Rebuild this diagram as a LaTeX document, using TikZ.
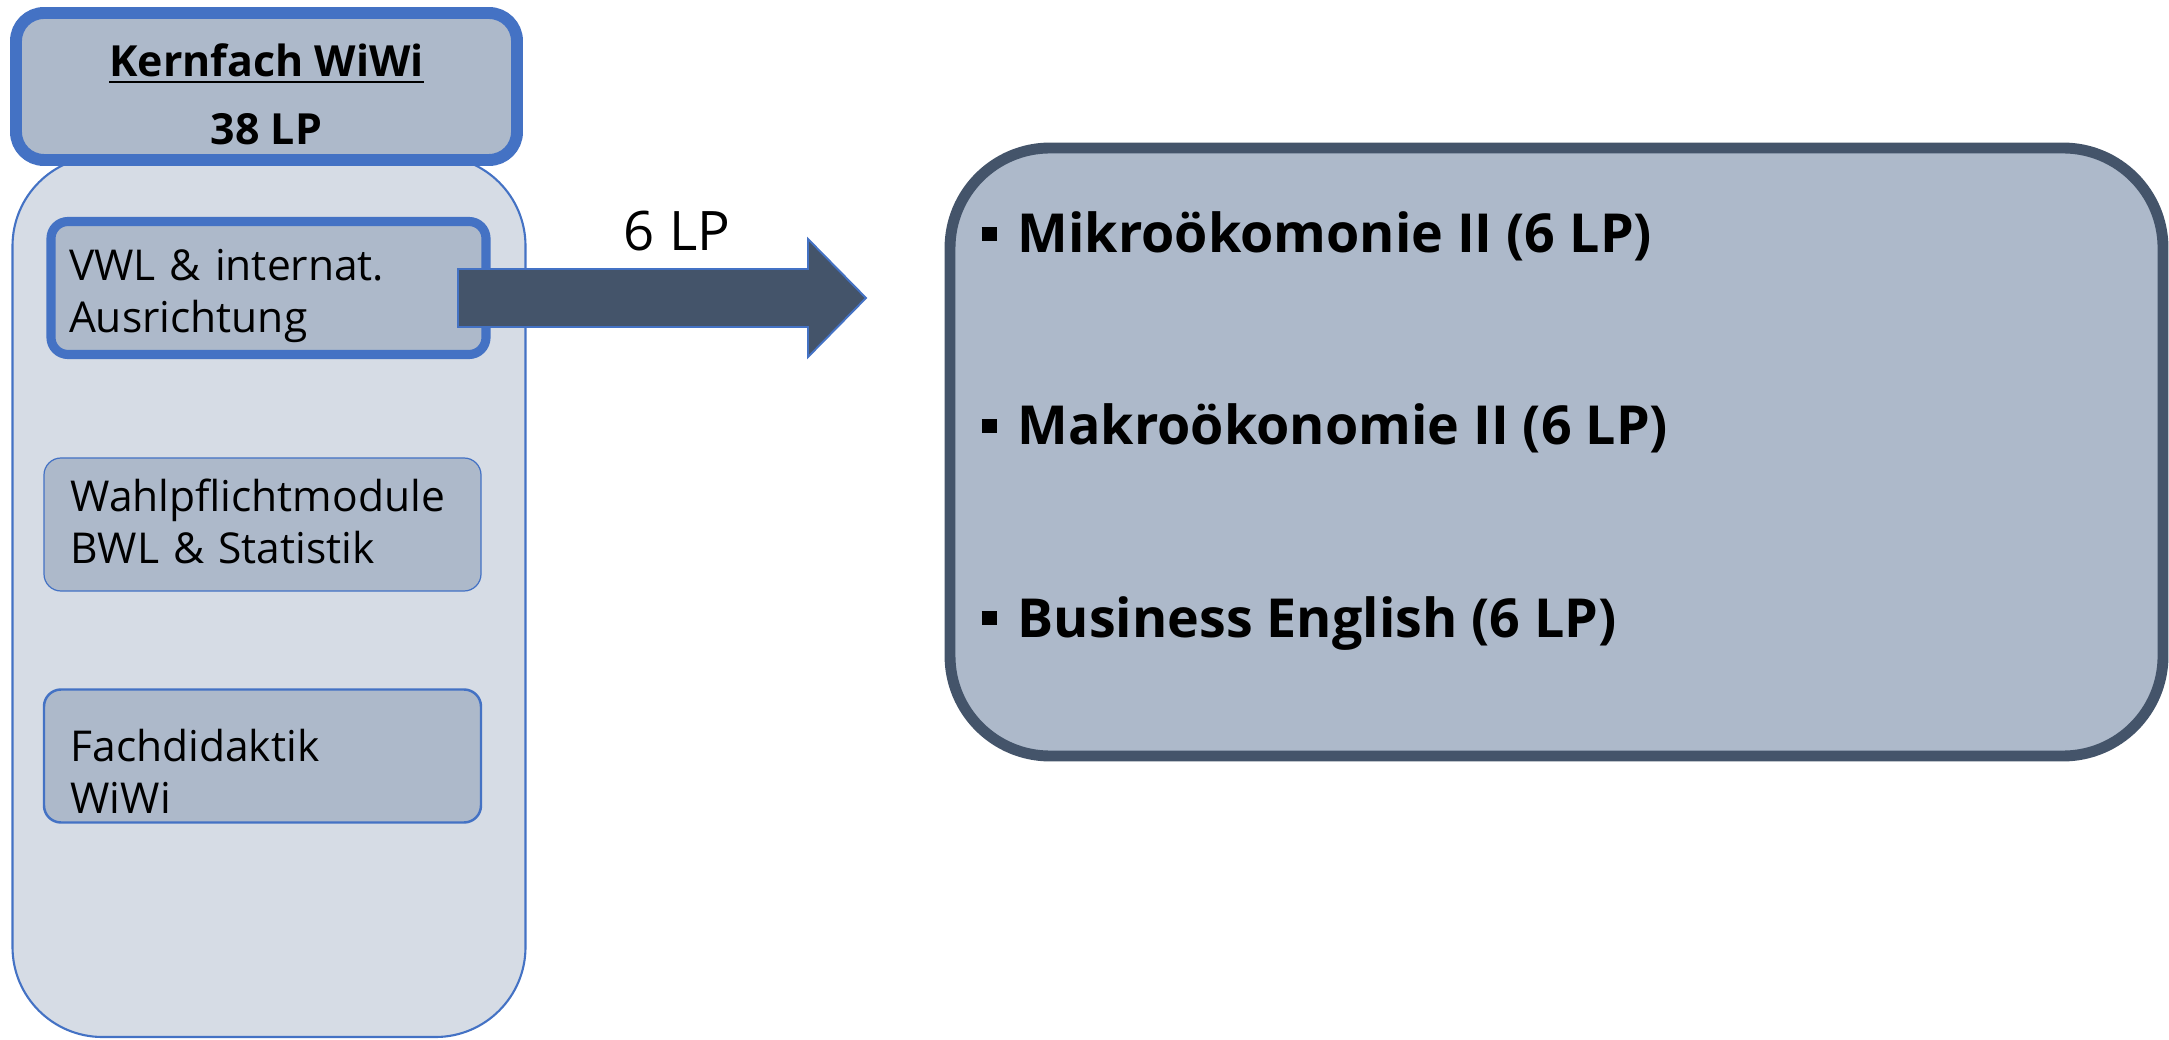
\documentclass[tikz,border=0pt]{standalone}
\usepackage{fontspec}
\setmainfont{Open Sans}
\usepackage{tikz}
\usetikzlibrary{positioning}
\tikzstyle{sheet} = [y = -1cm, every node/.style={inner sep=0pt}]
\definecolor{frameBlue}{RGB}{68,114,196}
\definecolor{paleFill}{RGB}{214,220,229}
\definecolor{moduleFill}{RGB}{173,185,202}
\definecolor{slateColor}{RGB}{68,84,106}
\tikzstyle{columnStyle} = [draw=frameBlue, fill=paleFill, line width=.6pt, rounded corners=.9cm, minimum width=5.13cm, minimum height=8.81cm]
\tikzstyle{headStyle} = [draw=frameBlue, fill=moduleFill, line width=3.4pt, rounded corners=.28cm, minimum width=5.01cm, minimum height=1.47cm]
\tikzstyle{headText} = [align=center, font=\fontsize{12.2pt}{19.4pt}\selectfont\bfseries]
\tikzstyle{moduleStyle} = [draw=frameBlue, fill=moduleFill, rounded corners=.17cm, minimum height=1.33cm]
\tikzstyle{moduleText} = [align=left, font=\fontsize{12.1pt}{14.8pt}\selectfont]
\tikzstyle{arrowStyle} = [draw=frameBlue, fill=slateColor, line width=.55pt, line join=miter]
\tikzstyle{arrowText} = [font=\fontsize{15.5pt}{18pt}\selectfont, anchor=base]
\tikzstyle{summaryStyle} = [draw=slateColor, fill=moduleFill, line width=3.1pt, rounded corners=1cm, minimum width=12.13cm, minimum height=6.08cm]
\tikzstyle{entryText} = [font=\fontsize{15.3pt}{18pt}\selectfont\bfseries, anchor=base west]
\newcommand{\moduleBox}[7]{
  \node [moduleStyle, line width=#2, minimum width=#3cm] (#1) at (#5) {};
  \node [moduleText, text width=#4cm] (#1Text) at ([yshift=#6cm]#1.center) {#7};
}
\newcommand{\entryBullet}{\llap{\raisebox{.12cm}{\rule{.15cm}{.14cm}}\hspace{.21cm}}}

\begin{document}
\begin{tikzpicture}[sheet]
  \useasboundingbox (0,0) rectangle (21.69,10.40);
  % left column
  \node [columnStyle] (column) at (2.69,5.965) {};
  \node [headStyle] (head) at (2.665,.865) {};
  \node [headText] (headLabel) at ([yshift=-.08cm]head.center) {\underline{Kernfach WiWi}\\38 LP};
  \moduleBox{vwl}{2.6pt}{4.35}{3.99}{2.685,2.88}{-.08}{VWL \& internat.\\Ausrichtung}
  \moduleBox{wahl}{.35pt}{4.37}{3.84}{2.625,5.245}{.035}{Wahlpflichtmodule\\BWL \& Statistik}
  \moduleBox{fach}{.7pt}{4.37}{3.84}{2.625,7.56}{-.15}{Fachdidaktik\\WiWi}
  % arrow
  \coordinate (arrowTail) at (4.58,2.98);
  \draw [arrowStyle, shift={(arrowTail)}] (0,-.29) -- (3.5,-.29) -- (3.5,-.59) -- (4.08,0) -- (3.5,.59) -- (3.5,.29) -- (0,.29) -- cycle;
  \node [arrowText] (arrowLabel) at (6.77,2.51) {6 LP};
  % right box
  \node [summaryStyle] (summary) at (15.565,4.52) {};
  \foreach \entry [count=\i] in {Mikroökomonie II (6 LP), Makroökonomie II (6 LP), Business English (6 LP)} {
    \node [entryText] (entry\i) at (10.17,{.61 + 1.92*\i}) {\entryBullet\entry};
  }
\end{tikzpicture}
\end{document}
